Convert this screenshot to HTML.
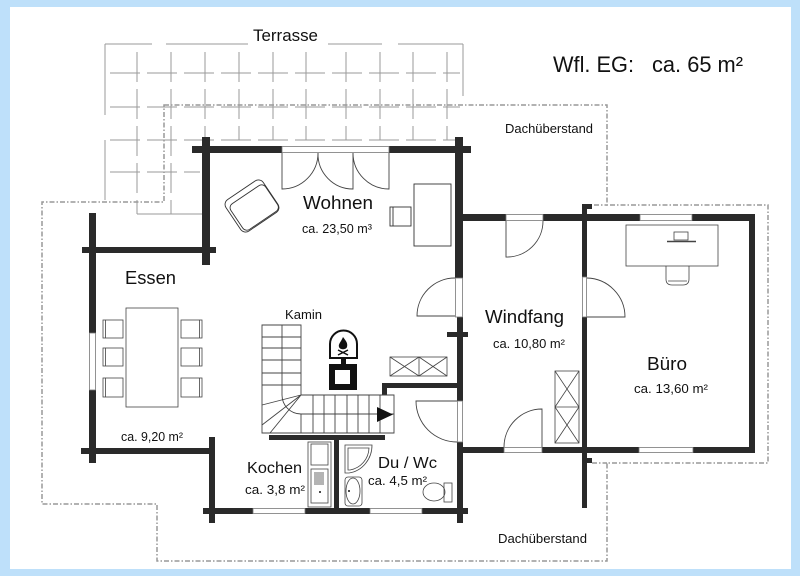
<!DOCTYPE html>
<html><head><meta charset="utf-8">
<style>
html,body{margin:0;padding:0;background:#bee0fa;}
svg{display:block;}
text{font-family:"Liberation Sans",sans-serif;fill:#111;}
</style></head><body>
<svg width="800" height="576" viewBox="0 0 800 576" xmlns="http://www.w3.org/2000/svg">
<rect x="0" y="0" width="800" height="576" fill="#bee0fa"/>
<rect x="10" y="7" width="781" height="562" fill="#fff"/>

<!-- Terrace grid -->
<g stroke="#9a9a9a" stroke-width="1" fill="none">
  <path d="M105,44 H152 M166,44 H248 M328,44 H382 M398,44 H463"/>
  <path d="M105,44 V115 M105,140 V200"/>
  <path d="M463,44 V96"/>
  <g stroke-dasharray="30 7">
    <path d="M110,73 H460 M110,107 H460 M110,140 H455 M110,172 H200"/>
    <path d="M137,52 V214 M171,52 V214 M205,52 V140 M239,52 V140 M273,52 V140 M306,52 V140 M346,52 V140 M380,52 V140 M413,52 V140 M447,52 V140"/>
  </g>
  <path d="M137,214 H202"/>
</g>

<!-- Dachüberstand -->
<g stroke="#999" stroke-width="1.5" fill="none" stroke-dasharray="5 2 1.5 2">
  <path d="M164,105 L607,105 L607,205 L768,205 L768,463 L607,463 L607,561 L157,561 L157,504 L42,504 L42,202 L164,202 Z"/>
  <path d="M594,205 H607 M592,463 H607"/>
</g>

<!-- Walls -->
<g fill="#2a2a2a">
  <!-- Wohnen top -->
  <rect x="192" y="146" width="90" height="7"/>
  <rect x="389" y="146" width="82" height="7"/>
  <!-- Wohnen left -->
  <rect x="202" y="137" width="8" height="128"/>
  <!-- Wohnen right / Windfang left -->
  <rect x="455" y="137" width="8" height="141"/>
  <rect x="457" y="317" width="6" height="84"/>
  <rect x="457" y="442" width="6" height="81"/>
  <rect x="447" y="332" width="21" height="5"/>
  <!-- Essen -->
  <rect x="82" y="247" width="134" height="6"/>
  <rect x="89" y="213" width="7" height="120"/>
  <rect x="89" y="390" width="7" height="73"/>
  <rect x="81" y="448" width="131" height="6"/>
  <!-- Kitchen left -->
  <rect x="209" y="437" width="6" height="86"/>
  <!-- bottom wall -->
  <rect x="203" y="508" width="50" height="6"/>
  <rect x="305" y="508" width="65" height="6"/>
  <rect x="422" y="508" width="46" height="6"/>
  <!-- Windfang/Büro bottom -->
  <rect x="457" y="447" width="47" height="6"/>
  <rect x="542" y="447" width="97" height="6"/>
  <rect x="693" y="447" width="62" height="6"/>
  <!-- Windfang/Büro top -->
  <rect x="463" y="214" width="43" height="7"/>
  <rect x="543" y="214" width="97" height="7"/>
  <rect x="692" y="214" width="63" height="7"/>
  <!-- Büro right -->
  <rect x="749" y="214" width="6" height="239"/>
  <!-- divider -->
  <rect x="582" y="204" width="5" height="73"/>
  <rect x="582" y="317" width="5" height="191"/>
  <rect x="582" y="204" width="10" height="5"/>
  <rect x="587" y="458" width="5" height="5"/>
  <!-- Kochen/Du -->
  <rect x="334" y="437" width="5" height="71"/>
  <rect x="269" y="435" width="116" height="5"/>
  <!-- Du top -->
  <rect x="382" y="383" width="75" height="5"/>
  <rect x="382" y="383" width="5" height="12"/>
</g>

<!-- Window / opening fills -->
<g fill="#fff" stroke="#777" stroke-width="0.8">
  <rect x="282" y="146.5" width="107" height="6"/>
  <rect x="89.5" y="333" width="6" height="57"/>
  <rect x="640" y="214.5" width="52" height="6"/>
  <rect x="639" y="447.5" width="54" height="5"/>
  <rect x="253" y="508.5" width="52" height="5"/>
  <rect x="370" y="508.5" width="52" height="5"/>
  <rect x="506" y="214.5" width="37" height="6"/>
  <rect x="504" y="447.5" width="38" height="5"/>
  <rect x="457.5" y="401" width="5" height="41"/>
  <rect x="455.5" y="278" width="7" height="39"/>
  <rect x="582.5" y="277" width="4" height="40"/>
</g>

<!-- Doors -->
<g stroke="#444" stroke-width="0.9" fill="none">
  <path d="M282,153 V189 A36,36 0 0 0 318,153"/>
  <path d="M353,153 V189 A35,35 0 0 1 318,153"/>
  <path d="M389,153 V189 A36,36 0 0 1 353,153"/>
  <path d="M455,316 H417 A38,38 0 0 1 455,278"/>
  <path d="M506,221 V257 A36,36 0 0 0 543,221"/>
  <path d="M587,317 H625 A39,39 0 0 0 587,278"/>
  <path d="M542,447 V409 A38,38 0 0 0 504,447"/>
  <path d="M457,401 H416 A41,41 0 0 0 457,442"/>
</g>

<!-- Stairs -->
<g stroke="#444" stroke-width="0.9" fill="none">
  <path d="M262,325 H301 V395 H394 V433 H262 Z"/>
  <path d="M282,325 V395"/>
  <path d="M262,337 H301 M262,348 H301 M262,360 H301 M262,373 H301 M262,385 H301"/>
  <path d="M313,395 V433 M324,395 V433 M335,395 V433 M347,395 V433 M358,395 V433 M369,395 V433 M380,395 V433"/>
  <path d="M301,414 H394"/>
  <path d="M282,395 A19,19 0 0 0 301,414"/>
  <path d="M301,395 L262,425 M301,395 L270,433 M301,395 L262,405 M301,414 V433"/>
</g>
<polygon points="377,407 393,414.5 377,422" fill="#111"/>

<!-- Kamin -->
<path d="M330,358 V344 A13.5,13.5 0 0 1 357,344 V358 Z" fill="#fff" stroke="#111" stroke-width="2"/>
<path d="M343,337 C346,341 348,343 347,347 C346,350 340,350 339,347 C338,344 341,342 343,337 Z" fill="#111"/>
<path d="M338,350 L348,355 M348,350 L338,355" stroke="#111" stroke-width="1.5"/>
<rect x="341" y="358" width="5" height="6" fill="#111"/>
<rect x="329" y="364" width="28" height="26" fill="#111"/>
<rect x="335" y="370" width="15" height="14" fill="#fff"/>

<!-- Cabinets with X -->
<g stroke="#444" stroke-width="0.8" fill="none">
  <rect x="390" y="357" width="57" height="19"/>
  <path d="M419,357 V376 M390,357 L419,376 M419,357 L390,376 M419,357 L447,376 M447,357 L419,376"/>
  <rect x="555" y="371" width="24" height="72"/>
  <path d="M555,407 H579 M555,371 L579,407 M579,371 L555,407 M555,407 L579,443 M579,407 L555,443"/>
</g>

<!-- Kitchen -->
<g stroke="#444" stroke-width="0.8" fill="none">
  <rect x="308" y="442" width="23" height="65"/>
  <rect x="311" y="444" width="17" height="21"/>
  <rect x="311" y="469" width="17" height="34"/>
  <path d="M315,472 V485 M317,472 V485 M319,472 V485 M321,472 V485 M323,472 V485"/>
</g>
<circle cx="320" cy="492" r="1" fill="#111"/>

<!-- Du -->
<g stroke="#444" stroke-width="0.8" fill="none">
  <path d="M345,445 H372 A27,28 0 0 1 349,473 H345 Z"/>
  <path d="M348,448 H369 A23,23 0 0 1 350,470 H348 Z"/>
  <rect x="345" y="477" width="17" height="29" rx="3"/>
  <ellipse cx="353" cy="491" rx="7" ry="13"/>
  <ellipse cx="434" cy="492" rx="11" ry="9"/>
  <rect x="444" y="483" width="8" height="19"/>
</g>
<circle cx="349" cy="491" r="1" fill="#111"/>

<!-- Wohnen furniture -->
<g stroke="#333" stroke-width="0.9" fill="none">
  <g transform="rotate(-34 252 206)">
    <rect x="229.5" y="187" width="45" height="38" rx="6"/>
    <rect x="232" y="193" width="42" height="31" rx="5"/>
  </g>
  <rect x="414" y="184" width="37" height="62"/>
  <rect x="390" y="207" width="21" height="19"/>
  <path d="M393,207 V226"/>
</g>

<!-- Essen furniture -->
<g stroke="#444" stroke-width="0.8" fill="none">
  <rect x="126" y="308" width="52" height="99"/>
  <rect x="103" y="320" width="20" height="18"/>
  <rect x="103" y="348" width="20" height="18"/>
  <rect x="103" y="378" width="20" height="19"/>
  <path d="M105.5,320 V338 M105.5,348 V366 M105.5,378 V397"/>
  <rect x="181" y="320" width="21" height="18"/>
  <rect x="181" y="348" width="21" height="18"/>
  <rect x="181" y="378" width="21" height="19"/>
  <path d="M199.5,320 V338 M199.5,348 V366 M199.5,378 V397"/>
</g>

<!-- Büro furniture -->
<g stroke="#444" stroke-width="0.8" fill="none">
  <rect x="626" y="225" width="92" height="41"/>
  <rect x="674" y="232" width="14" height="8"/>
  <path d="M667,241.5 H696" stroke-width="1.5"/>
  <path d="M666,266 V279 Q666,285 672,285 H683 Q689,285 689,279 V266"/>
  <path d="M668,281 H687"/>
</g>

<!-- Labels -->
<text x="253" y="41" font-size="16.5" textLength="65" lengthAdjust="spacingAndGlyphs">Terrasse</text>
<text x="553" y="72" font-size="22" textLength="81" lengthAdjust="spacingAndGlyphs">Wfl. EG:</text>
<text x="652" y="72" font-size="22" textLength="91" lengthAdjust="spacingAndGlyphs">ca. 65 m²</text>
<text x="505" y="133" font-size="13" textLength="88" lengthAdjust="spacingAndGlyphs">Dachüberstand</text>
<text x="498" y="543" font-size="13" textLength="89" lengthAdjust="spacingAndGlyphs">Dachüberstand</text>
<text x="303" y="209" font-size="18.5" textLength="70" lengthAdjust="spacingAndGlyphs">Wohnen</text>
<text x="302" y="233" font-size="12.5" textLength="70" lengthAdjust="spacingAndGlyphs">ca. 23,50 m³</text>
<text x="125" y="284" font-size="18.5" textLength="51" lengthAdjust="spacingAndGlyphs">Essen</text>
<text x="121" y="441" font-size="12.5" textLength="62" lengthAdjust="spacingAndGlyphs">ca. 9,20 m²</text>
<text x="285" y="319" font-size="13" textLength="37" lengthAdjust="spacingAndGlyphs">Kamin</text>
<text x="485" y="323" font-size="18.5" textLength="79" lengthAdjust="spacingAndGlyphs">Windfang</text>
<text x="493" y="348" font-size="12.5" textLength="72" lengthAdjust="spacingAndGlyphs">ca. 10,80 m²</text>
<text x="647" y="370" font-size="18.5" textLength="40" lengthAdjust="spacingAndGlyphs">Büro</text>
<text x="634" y="393" font-size="12.5" textLength="74" lengthAdjust="spacingAndGlyphs">ca. 13,60 m²</text>
<text x="247" y="473" font-size="16" textLength="55" lengthAdjust="spacingAndGlyphs">Kochen</text>
<text x="245" y="494" font-size="12.5" textLength="60" lengthAdjust="spacingAndGlyphs">ca. 3,8 m²</text>
<text x="378" y="468" font-size="16" textLength="59" lengthAdjust="spacingAndGlyphs">Du / Wc</text>
<text x="368" y="485" font-size="12.5" textLength="59" lengthAdjust="spacingAndGlyphs">ca. 4,5 m²</text>
</svg>
</body></html>
